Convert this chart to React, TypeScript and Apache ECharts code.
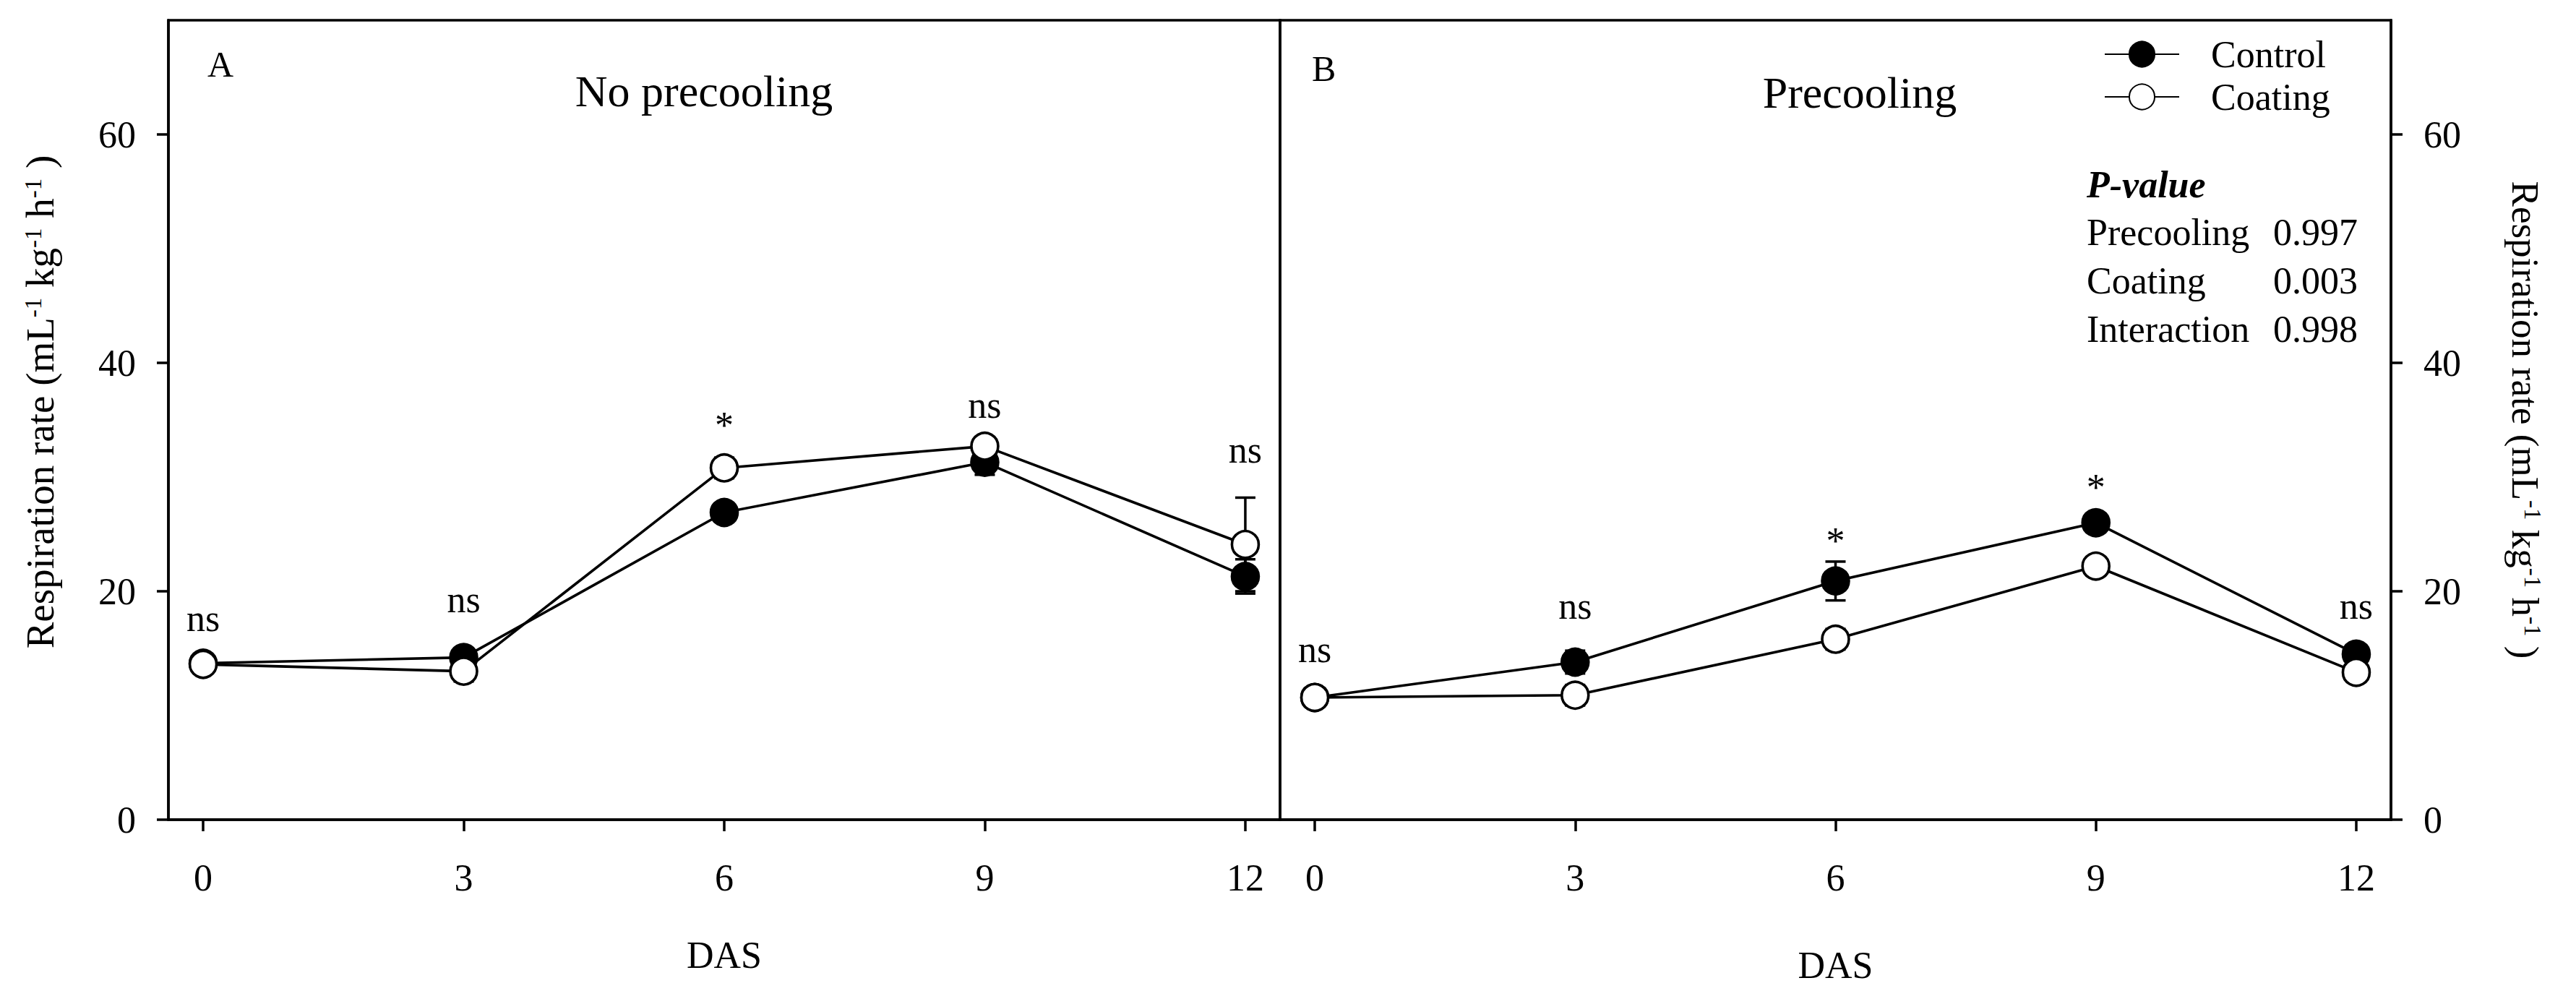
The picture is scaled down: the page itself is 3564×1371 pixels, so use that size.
import React, { useEffect, useRef } from "react";
import * as echarts from "echarts";

// ---- data ----
const days = [0, 3, 6, 9, 12];

// Panel A: No precooling
const controlA = [13.7, 14.2, 26.9, 31.3, 21.3];
const controlSeA = [0.3, 0.5, 0.5, 1.1, 1.5];
const coatingA = [13.6, 13.0, 30.8, 32.7, 24.1];
const coatingSeA = [0.3, 0.9, 0.9, 0.4, 4.1];
const sigA = ["ns", "ns", "*", "ns", "ns"];
const sigYA = [17.6, 19.3, 34.5, 36.3, 32.4];

// Panel B: Precooling
const controlB = [10.7, 13.8, 20.9, 26.0, 14.5];
const controlSeB = [0.3, 1.0, 1.7, 0.7, 0.4];
const coatingB = [10.7, 10.9, 15.8, 22.2, 12.9];
const coatingSeB = [0.3, 0.9, 0.9, 0.6, 0.3];
const sigB = ["ns", "ns", "*", "*", "ns"];
const sigYB = [14.9, 18.7, 24.4, 29.1, 18.7];

const yTicks = [0, 20, 40, 60];
const panelTitles = ["No precooling", "Precooling"];
const panelLetters = ["A", "B"];
const pHeader = "P-value";
const pLabels = ["Precooling", "Coating", "Interaction"];
const pValues = ["0.997", "0.003", "0.998"];
const xName = "DAS";
const yName = "Respiration rate (mL{s|-1} kg{s|-1} h{s|-1} )";

const FONT = '"Liberation Serif", "Times New Roman", serif';
const BLACK = "#000";

function pts(ys: number[]) {
  return days.map((d, i) => [d, ys[i]]);
}

function errSeries(idx: number, mean: number[], se: number[]) {
  return {
    type: "custom",
    xAxisIndex: idx,
    yAxisIndex: idx,
    silent: true,
    z: 2,
    encode: { x: 0, y: [1, 2] },
    data: days.map((d, i) => [d, mean[i] - se[i], mean[i] + se[i]]),
    renderItem: (params: any, api: any) => {
      const x = api.value(0);
      const lo = api.coord([x, api.value(1)]);
      const hi = api.coord([x, api.value(2)]);
      const cw = 14;
      const s = { stroke: BLACK, lineWidth: 3.5 };
      return {
        type: "group",
        children: [
          { type: "line", shape: { x1: lo[0], y1: lo[1], x2: hi[0], y2: hi[1] }, style: s },
          { type: "line", shape: { x1: lo[0] - cw, y1: lo[1], x2: lo[0] + cw, y2: lo[1] }, style: s },
          { type: "line", shape: { x1: hi[0] - cw, y1: hi[1], x2: hi[0] + cw, y2: hi[1] }, style: s },
        ],
      };
    },
  };
}

function sigSeries(idx: number, labels: string[], ys: number[]) {
  return {
    type: "custom",
    xAxisIndex: idx,
    yAxisIndex: idx,
    silent: true,
    z: 5,
    data: days.map((d, i) => [d, ys[i]]),
    renderItem: (params: any, api: any) => {
      const p = api.coord([api.value(0), api.value(1)]);
      return {
        type: "text",
        x: p[0],
        y: p[1],
        style: {
          text: labels[params.dataIndex],
          fontSize: 52,
          fontFamily: FONT,
          fill: BLACK,
          align: "center",
          verticalAlign: "middle",
        },
      };
    },
  };
}

function lineSeries(name: string, idx: number, ys: number[], filled: boolean) {
  return {
    type: "line",
    name,
    xAxisIndex: idx,
    yAxisIndex: idx,
    data: pts(ys),
    symbol: "circle",
    symbolSize: 37,
    z: 3,
    lineStyle: { color: BLACK, width: 3.6 },
    itemStyle: { color: filled ? BLACK : "#fff", borderColor: BLACK, borderWidth: 3.6 },
    emphasis: { disabled: true },
  };
}

const axisLineStyle = { color: BLACK, width: 3.5 };
const tickText = { fontSize: 52, fontFamily: FONT, color: BLACK };

function xAxis(idx: number, gap: number) {
  return {
    type: "value",
    gridIndex: idx,
    min: -0.4,
    max: 12.4,
    axisLine: { show: true, onZero: false, lineStyle: axisLineStyle },
    axisTick: { show: true, inside: false, length: 16, lineStyle: axisLineStyle, customValues: days },
    axisLabel: { ...tickText, margin: 54, customValues: days },
    splitLine: { show: false },
    name: xName,
    nameLocation: "middle",
    nameGap: gap,
    nameTextStyle: { fontSize: 52, fontFamily: FONT, color: BLACK },
  };
}

function yAxis(idx: number, pos: "left" | "right", gap: number, size: number, pad: number[]) {
  return {
    type: "value",
    gridIndex: idx,
    position: pos,
    min: 0,
    max: 70,
    axisLine: { show: true, onZero: false, lineStyle: axisLineStyle },
    axisTick: { show: true, inside: false, length: 16, lineStyle: axisLineStyle, customValues: yTicks },
    axisLabel: { ...tickText, margin: 45, customValues: yTicks },
    splitLine: { show: false },
    name: yName,
    nameLocation: "middle",
    nameRotate: pos === "left" ? 90 : -90,
    nameGap: gap,
    nameTextStyle: {
      fontSize: size,
      fontFamily: FONT,
      color: BLACK,
      lineHeight: 52,
      padding: pad,
      rich: {
        s: { fontSize: 33, fontFamily: FONT, color: BLACK, verticalAlign: "top", lineHeight: 52 },
      },
    },
  };
}

function txt(text: string, x: number, y: number, size: number, align = "left", extra: any = {}) {
  return {
    type: "text",
    x,
    y,
    style: {
      text,
      fontSize: size,
      fontFamily: FONT,
      fill: BLACK,
      align,
      verticalAlign: "middle",
      ...extra,
    },
  };
}

export default function App() {
  const ref = useRef<HTMLDivElement>(null);
  useEffect(() => {
    if (!ref.current) return;
    const chart = echarts.init(ref.current, undefined, { renderer: "svg" });
    const pRows: any[] = [];
    pLabels.forEach((l, i) => {
      pRows.push(txt(l, 2887, 321 + i * 67, 52));
      pRows.push(txt(pValues[i], 3262, 321 + i * 67, 52, "right"));
    });
    chart.setOption({
      animation: false,
      backgroundColor: "#fff",
      grid: [
        { left: 233, top: 28, width: 1538, height: 1106, show: true, borderColor: BLACK, borderWidth: 3.5, containLabel: false },
        { left: 1771, top: 28, width: 1537, height: 1106, show: true, borderColor: BLACK, borderWidth: 3.5, containLabel: false },
      ],
      xAxis: [xAxis(0, 161), xAxis(1, 175)],
      yAxis: [
        yAxis(0, "left", 152, 55, [0, 0, 0, 50]),
        yAxis(1, "right", 160, 53, [0, 0, 0, 0]),
      ],
      legend: {
        data: ["Control", "Coating"],
        orient: "vertical",
        left: 2906,
        top: 44,
        itemWidth: 103,
        itemHeight: 44,
        itemGap: 7,
        selectedMode: false,
        textStyle: { fontSize: 52, fontFamily: FONT, color: BLACK, lineHeight: 44, padding: [0, 0, 0, 39] },
      },
      series: [
        errSeries(0, controlA, controlSeA),
        errSeries(0, coatingA, coatingSeA),
        errSeries(1, controlB, controlSeB),
        errSeries(1, coatingB, coatingSeB),
        lineSeries("Control", 0, controlA, true),
        lineSeries("Coating", 0, coatingA, false),
        lineSeries("Control", 1, controlB, true),
        lineSeries("Coating", 1, coatingB, false),
        sigSeries(0, sigA, sigYA),
        sigSeries(1, sigB, sigYB),
      ],
      graphic: [
        txt(panelLetters[0], 287, 89, 50),
        txt(panelLetters[1], 1815, 95, 50),
        txt(panelTitles[0], 974, 126, 62, "center"),
        txt(panelTitles[1], 2573, 128, 62, "center"),
        txt(pHeader, 2887, 255, 52, "left", { fontStyle: "italic", fontWeight: "bold" }),
        ...pRows,
      ],
    });
    return () => chart.dispose();
  }, []);
  return (
    <div
      ref={ref}
      style={{ position: "absolute", left: 0, top: 0, width: 3564, height: 1371, background: "#fff" }}
    />
  );
}
